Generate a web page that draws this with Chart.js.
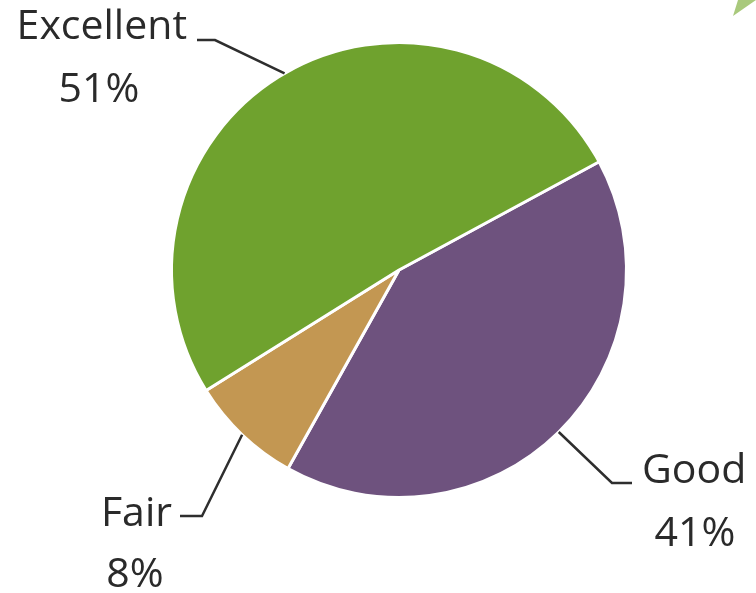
<!DOCTYPE html>
<html>
<head>
<meta charset="utf-8">
<script src="https://cdn.jsdelivr.net/npm/chart.js@4/dist/chart.umd.min.js"></script>
<style>
  html, body { margin: 0; padding: 0; background: #ffffff; }
  #wrap { width: 756px; height: 593px; position: relative; }
</style>
</head>
<body>
<div id="wrap"><canvas id="c" width="756" height="593"></canvas></div>
<script>
// ---- data ----
const categories = ['Good', 'Fair', 'Excellent'];
const values = [41, 8, 51];
const colors = ['#6e527e', '#c39752', '#6fa22e'];

// label layout (annotation placement only)
const labelLayout = {
  'Excellent': { nameX: 187, nameY: 39, nameAlign: 'right', pctX: 99, pctY: 102, elbow: [215, 40], end: [197, 40] },
  'Good':      { nameX: 642, nameY: 483, nameAlign: 'left', pctX: 695, pctY: 546, elbow: [612, 483], end: [632, 483] },
  'Fair':      { nameX: 172, nameY: 526, nameAlign: 'right', pctX: 135, pctY: 587, elbow: [202, 516], end: [180, 516] }
};

const FONT = '"Open Sans", "Noto Sans", sans-serif';
const FONT_SIZE = 41;
const TEXT_COLOR = '#2a2a2a';

const leaderPlugin = {
  id: 'leaders',
  afterDatasetsDraw(chart) {
    const ctx = chart.ctx;
    const meta = chart.getDatasetMeta(0);
    ctx.save();
    meta.data.forEach((arc, i) => {
      const cat = categories[i];
      const L = labelLayout[cat];
      if (!L) return;
      const p = arc.getProps(['x', 'y', 'startAngle', 'endAngle', 'outerRadius'], true);
      const mid = (p.startAngle + p.endAngle) / 2;
      const sx = p.x + Math.cos(mid) * p.outerRadius;
      const sy = p.y + Math.sin(mid) * p.outerRadius;
      ctx.beginPath();
      ctx.strokeStyle = '#2e2e2e';
      ctx.lineWidth = 2.5;
      ctx.lineJoin = 'miter';
      ctx.moveTo(sx, sy);
      ctx.lineTo(L.elbow[0], L.elbow[1]);
      ctx.lineTo(L.end[0], L.end[1]);
      ctx.stroke();

      ctx.fillStyle = TEXT_COLOR;
      ctx.font = FONT_SIZE + 'px ' + FONT;
      ctx.textBaseline = 'alphabetic';
      ctx.textAlign = L.nameAlign;
      ctx.fillText(cat, L.nameX, L.nameY);
      ctx.textAlign = 'center';
      ctx.fillText(values[i] + '%', L.pctX, L.pctY);
    });
    // decorative corner triangle
    ctx.beginPath();
    ctx.fillStyle = '#a9c97c';
    ctx.moveTo(733, 16);
    ctx.lineTo(738, 0);
    ctx.lineTo(756, 0);
    ctx.closePath();
    ctx.fill();
    ctx.restore();
  }
};

new Chart(document.getElementById('c'), {
  type: 'pie',
  data: {
    labels: categories,
    datasets: [{
      data: values,
      backgroundColor: colors,
      borderColor: '#ffffff',
      borderWidth: 3,
      hoverOffset: 0
    }]
  },
  options: {
    responsive: false,
    animation: false,
    rotation: 61.6,
    layout: { padding: { left: 170, top: 41, right: 128, bottom: 94 } },
    plugins: {
      legend: { display: false },
      tooltip: { enabled: false }
    }
  },
  plugins: [leaderPlugin]
});
</script>
</body>
</html>
